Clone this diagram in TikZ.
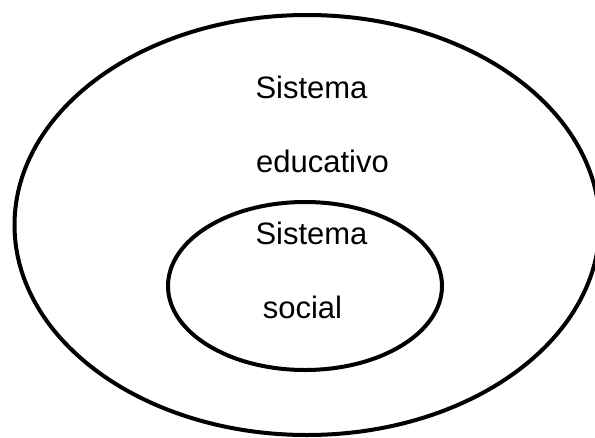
\documentclass[tikz,border=0pt]{standalone}
\usepackage{fontspec}
\setmainfont{Liberation Sans}
\usepackage{tikz}

\begin{document}
\begin{tikzpicture}[x=1pt,y=-1pt,
	ring/.style={draw,line width=4pt},
	main_text/.style={font=\fontsize{31}{37}\selectfont,inner sep=0pt,anchor=base}]
	\useasboundingbox (0,0) rectangle (595,437);
	\draw[ring] (307,225) ellipse [x radius=292.5, y radius=210];
	\draw[ring] (305,286) ellipse [x radius=137, y radius=84];
	
	\node[main_text] (sistema1) at (311.5,98) {Sistema};
	\node[main_text] (educativo) at (322.5,172) {educativo};
	\node[main_text] (sistema2) at (311.5,244) {Sistema};
	\node[main_text] (social) at (302.5,318) {social};
\end{tikzpicture}
\end{document}
